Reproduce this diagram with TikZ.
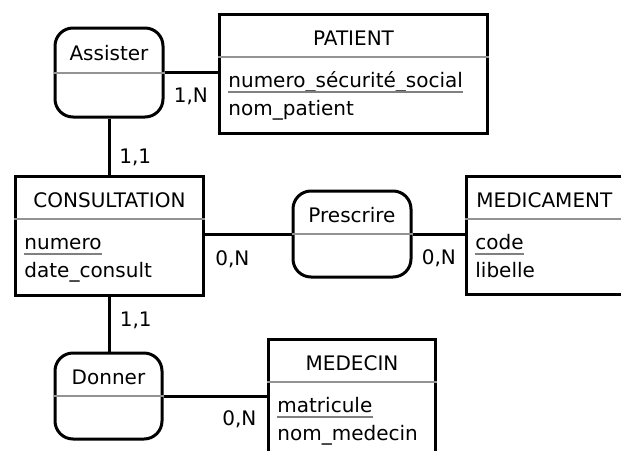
\documentclass[tikz,border=0pt]{standalone}
\usepackage{fontspec}
\setmainfont{DejaVu Sans}
\usetikzlibrary{positioning}
\tikzset{
entity/.style={
	  draw, line width=1.5pt, rectangle, anchor=north west,
	    inner sep=0pt, minimum height=59.5pt},
relation/.style={
	  draw, line width=1.5pt, rectangle, rounded corners=9pt,
	    inner sep=0pt, minimum height=43pt},
sepline/.style={draw=gray!85, line width=1pt},
keyline/.style={draw=gray, line width=1pt},
link/.style={draw, line width=1.5pt},
txt/.style={inner sep=0pt, font=\fontsize{10}{12}\selectfont},
card/.style={txt, anchor=base west}
}
\newcommand{\entitysep}[1]{\draw[sepline] ([yshift=-22pt]#1.north west) -- ([yshift=-22pt]#1.north east);}
\newcommand{\keyunder}[1]{\draw[keyline] ([yshift=-2.5pt]#1.base west) -- ([yshift=-2.5pt]#1.base east);}

\begin{document}
\begin{tikzpicture}[x=0.5pt, y=-0.5pt]
	\useasboundingbox (0,0) rectangle (621,450);
	\fill[white] (0,0) rectangle (621,450);
	% entities
	\node[entity, minimum width=90pt, minimum height=59pt] (medic) at (465,175) {};
	\node[entity, minimum width=134pt] (patient) at (218,13) {};
	\node[entity, minimum width=94pt] (consult) at (14,175) {};
	\node[entity, minimum width=83.5pt] (medecin) at (267,338) {};
	\foreach \e/\t in {patient/PATIENT, consult/CONSULTATION, medecin/MEDECIN}{
		\entitysep{\e}
		\node[txt, anchor=base] (\e-title) at ([yshift=-16pt]\e.north) {\t};
	}
	\entitysep{medic}
	\node[txt, anchor=base west] (medic-title) at ([xshift=5.5pt, yshift=-16pt]medic.north west) {MEDICAMENT};
	% attributes
	\node[txt, anchor=base west] (patient-a1) at ([xshift=5pt, yshift=-37pt]patient.north west) {numero\_sécurité\_social};
	\node[txt, anchor=base west] (patient-a2) at ([xshift=5pt, yshift=-51pt]patient.north west) {nom\_patient};
	\node[txt, anchor=base west] (consult-a1) at ([xshift=5pt, yshift=-37pt]consult.north west) {numero};
	\node[txt, anchor=base west] (consult-a2) at ([xshift=5pt, yshift=-51pt]consult.north west) {date\_consult};
	\node[txt, anchor=base west] (medic-a1) at ([xshift=5pt, yshift=-37pt]medic.north west) {code};
	\node[txt, anchor=base west] (medic-a2) at ([xshift=5pt, yshift=-51pt]medic.north west) {libelle};
	\node[txt, anchor=base west] (medecin-a1) at ([xshift=5pt, yshift=-37pt]medecin.north west) {matricule};
	\node[txt, anchor=base west] (medecin-a2) at ([xshift=5pt, yshift=-51pt]medecin.north west) {nom\_medecin};
	\foreach \k in {patient-a1, consult-a1, medic-a1, medecin-a1}{ \keyunder{\k} }
	% relations
	\node[relation, minimum width=54pt, minimum height=44.5pt] (assister) at (109,72.5) {};
	\node[relation, minimum width=59pt] (prescrire) at (352,234) {};
	\node[relation, minimum width=53.5pt] (donner) at (108.5,396) {};
	\foreach \r/\t in {assister/Assister, prescrire/Prescrire, donner/Donner}{
		\draw[sepline] (\r.west) -- (\r.east);
		\node[txt, anchor=base] (\r-title) at ([yshift=6pt]\r.center) {\t};
	}
	% links
	\draw[link] (assister.east) -- (assister.east -| patient.west);
	\draw[link] (assister.south) -- (assister.south |- consult.north);
	\draw[link] (consult.east |- prescrire.west) -- (prescrire.west);
	\draw[link] (prescrire.east) -- (prescrire.east -| medic.west);
	\draw[link] (consult.south) -- (consult.south |- donner.north);
	\draw[link] (donner.east) -- (donner.east -| medecin.west);
	% cardinalities
	\node[card] (c-assister-patient) at ([xshift=4.5pt, yshift=-15pt]assister.east) {1,N};
	\node[card] (c-assister-consult) at ([xshift=5pt, yshift=-22.5pt]assister.south) {1,1};
	\node[card] (c-consult-prescrire) at ([xshift=5pt, yshift=-14.5pt]consult.east) {0,N};
	\node[card] (c-prescrire-medic) at ([xshift=4.5pt, yshift=-15pt]prescrire.east) {0,N};
	\node[card] (c-consult-donner) at ([xshift=5pt, yshift=-14.5pt]consult.south) {1,1};
	\node[card] (c-donner-medecin) at (222,425) {0,N};
\end{tikzpicture}
\end{document}
